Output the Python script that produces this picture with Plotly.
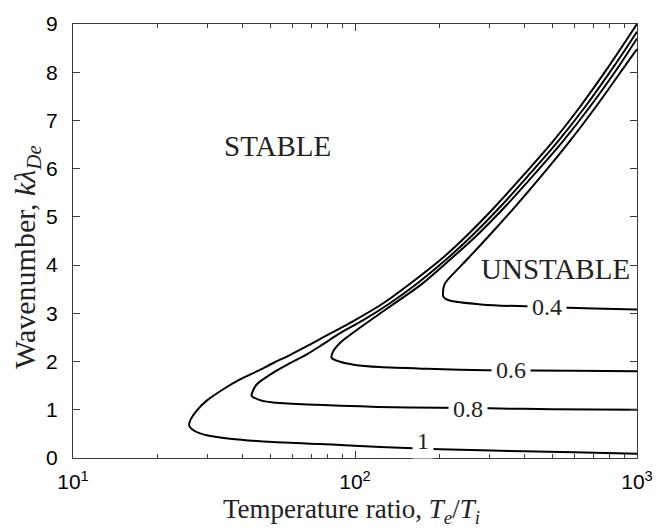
import math
import plotly.graph_objects as go

# Contour levels, each traced as (T_e/T_i, k*lambda_De) along the curve
levels = ["1", "0.8", "0.6", "0.4"]

k_1 = [0.09, 0.12, 0.14, 0.18, 0.23, 0.27, 0.33, 0.40, 0.47, 0.56, 0.68, 0.81, 1.0, 1.19,
       1.42, 1.63, 1.80, 1.97, 2.14, 2.32, 2.50, 2.69, 2.86, 3.21, 3.63, 4.10, 4.63,
       5.23, 5.88, 6.55, 7.30, 8.12, 9.0]
T_1 = [1000, 600, 400, 200, 123, 88.5, 51.3, 36, 29.8, 27, 25.8, 26.2, 27.6, 29.8,
       34, 39.1, 45, 51.3, 59, 67.5, 77, 88.5, 100, 126, 158, 200, 251,
       316, 398, 501, 631, 794, 1000]

k_08 = [1.00, 1.01, 1.03, 1.04, 1.06, 1.086, 1.11, 1.15, 1.20, 1.29, 1.40, 1.53, 1.77,
        1.96, 2.15, 2.36, 2.59, 2.86, 3.21, 3.63, 4.10, 4.63, 5.23, 5.88, 6.55, 7.30,
        8.12, 8.84]
T_08 = [1000, 500, 300, 200, 120, 88.5, 67.5, 51.3, 46, 43, 43.5, 44.9, 51.3,
        58.5, 67.5, 77, 88.5, 107, 133, 167, 209, 262, 330, 415, 522, 658,
        828, 1000]

k_06 = [1.80, 1.81, 1.82, 1.85, 1.885, 1.93, 2.0, 2.08, 2.2, 2.4, 2.7, 3.1, 3.6, 4.10,
        4.63, 5.23, 5.88, 6.55, 7.30, 8.12, 8.70]
T_06 = [1000, 600, 293, 180, 122.7, 100, 88, 82.6, 83.5, 89, 104, 130, 172, 216,
        272, 343, 432, 543, 684, 861, 1000]

k_04 = [3.08, 3.10, 3.13, 3.18, 3.27, 3.34, 3.41, 3.61, 3.89, 4.10, 4.63, 5.23, 5.88,
        6.55, 7.30, 8.12, 8.48]
T_04 = [1000, 700, 478, 285, 215, 206, 205, 208, 229, 248, 301, 372, 463,
        574, 718, 904, 1000]

curves_T = [T_1, T_08, T_06, T_04]
curves_k = [k_1, k_08, k_06, k_04]

# Contour label positions (T, k)
label_T = [174, 252, 357, 478]
label_k = [0.36, 1.02, 1.82, 3.13]

region_text = ["STABLE", "UNSTABLE"]
region_T = [52.9, 514]
region_k = [6.48, 3.91]

x_tickvals = [10, 100, 1000]
x_ticktext = ["10<sup>1</sup>", "10<sup>2</sup>", "10<sup>3</sup>"]
x_minor = [20, 30, 40, 50, 60, 70, 80, 90, 200, 300, 400, 500, 600, 700, 800, 900]
y_tickvals = list(range(0, 10))

SERIF = "Liberation Serif"
SANS = "Liberation Sans"
AX = "#3a3a3a"
TXT = "#222222"

fig = go.Figure()
for T, k, name in zip(curves_T, curves_k, levels):
    fig.add_trace(go.Scatter(x=T, y=k, mode="lines", name=name,
                             line=dict(color="black", width=2, shape="spline", smoothing=0.8),
                             showlegend=False, hoverinfo="skip"))

annotations = []
for T, k, name in zip(label_T, label_k, levels):
    annotations.append(dict(x=math.log10(T), y=k, xref="x", yref="y",
                            text=name, showarrow=False, bgcolor="white", borderpad=4,
                            font=dict(family=SERIF, size=24, color=TXT)))
for txt, T, k in zip(region_text, region_T, region_k):
    annotations.append(dict(x=math.log10(T), y=k, xref="x", yref="y",
                            text=txt, showarrow=False,
                            font=dict(family=SERIF, size=29, color=TXT)))

annotations.append(dict(x=0.5, y=0, xref="paper", yref="paper", yanchor="middle",
                        yshift=-53, xshift=-4, showarrow=False,
                        text="Temperature ratio, <i>T<sub>e</sub></i>/<i>T<sub>i</sub></i>",
                        font=dict(family=SERIF, size=27, color=TXT)))
annotations.append(dict(x=0, y=0.5, xref="paper", yref="paper", xanchor="center",
                        xshift=-46, yshift=-16, textangle=-90, showarrow=False,
                        text="Wavenumber, <i>kλ</i><sub><i>De</i></sub>",
                        font=dict(family=SERIF, size=30, color=TXT)))

fig.update_layout(
    width=670, height=530,
    margin=dict(l=73, r=33, t=19, b=72),
    paper_bgcolor="white", plot_bgcolor="white",
    annotations=annotations,
    xaxis=dict(type="log", range=[1, 3], showline=True, linecolor=AX, linewidth=1.3,
               mirror="allticks", ticks="inside", ticklen=7, tickcolor=AX, tickwidth=1,
               tickvals=x_tickvals, ticktext=x_ticktext, showgrid=False, zeroline=False,
               ticklabelstandoff=5,
               tickfont=dict(family=SANS, size=21, color="black"),
               minor=dict(ticks="inside", ticklen=4, tickcolor=AX, tickwidth=1,
                          tickvals=x_minor, showgrid=False)),
    yaxis=dict(range=[0, 9], showline=True, linecolor=AX, linewidth=1.3,
               mirror="allticks", ticks="inside", ticklen=7, tickcolor=AX, tickwidth=1,
               tickvals=y_tickvals, showgrid=False, zeroline=False,
               ticklabelstandoff=10,
               tickfont=dict(family=SANS, size=21, color="black")),
)

fig.write_html("out.html")
